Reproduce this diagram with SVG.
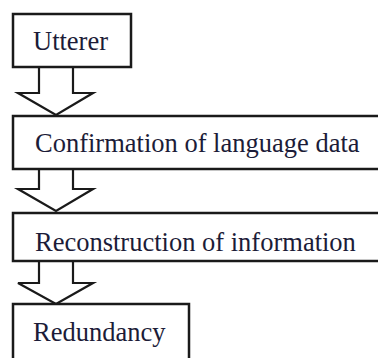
<svg xmlns="http://www.w3.org/2000/svg" width="378" height="358" viewBox="0 0 378 358">
<style>
.box{fill:#fff;stroke:#1a1a1a;stroke-width:2.5}
.arr{fill:#fff;stroke:#1a1a1a;stroke-width:2.2;stroke-linejoin:miter}
.t{font-family:'Liberation Serif','DejaVu Serif',serif;font-size:26.5px;fill:#1c1c38}
</style>
<rect width="378" height="358" fill="#fff"/>
<g id="connectors">
<path class="arr" d="M39,67 V93 H18 L56,115 L93,93 H73 V67"/>
<path class="arr" d="M39,169 V189 H18 L56,211 L93,189 H73 V169"/>
<path class="arr" d="M39,261 V283 H18 L56,304 L93,283 H73 V261"/>
</g>
<g id="utterer">
<rect class="box" x="13" y="14" width="118" height="53"/>
<text class="t" x="33" y="50">Utterer</text>
</g>
<g id="confirmation">
<rect class="box" x="13" y="116" width="380" height="53"/>
<text class="t" x="35" y="152">Confirmation of language data</text>
</g>
<g id="reconstruction">
<rect class="box" x="13" y="213" width="380" height="48"/>
<text class="t" x="35" y="251">Reconstruction of information</text>
</g>
<g id="redundancy">
<rect class="box" x="13" y="304" width="176" height="70"/>
<text class="t" x="33" y="341">Redundancy</text>
</g>
</svg>
